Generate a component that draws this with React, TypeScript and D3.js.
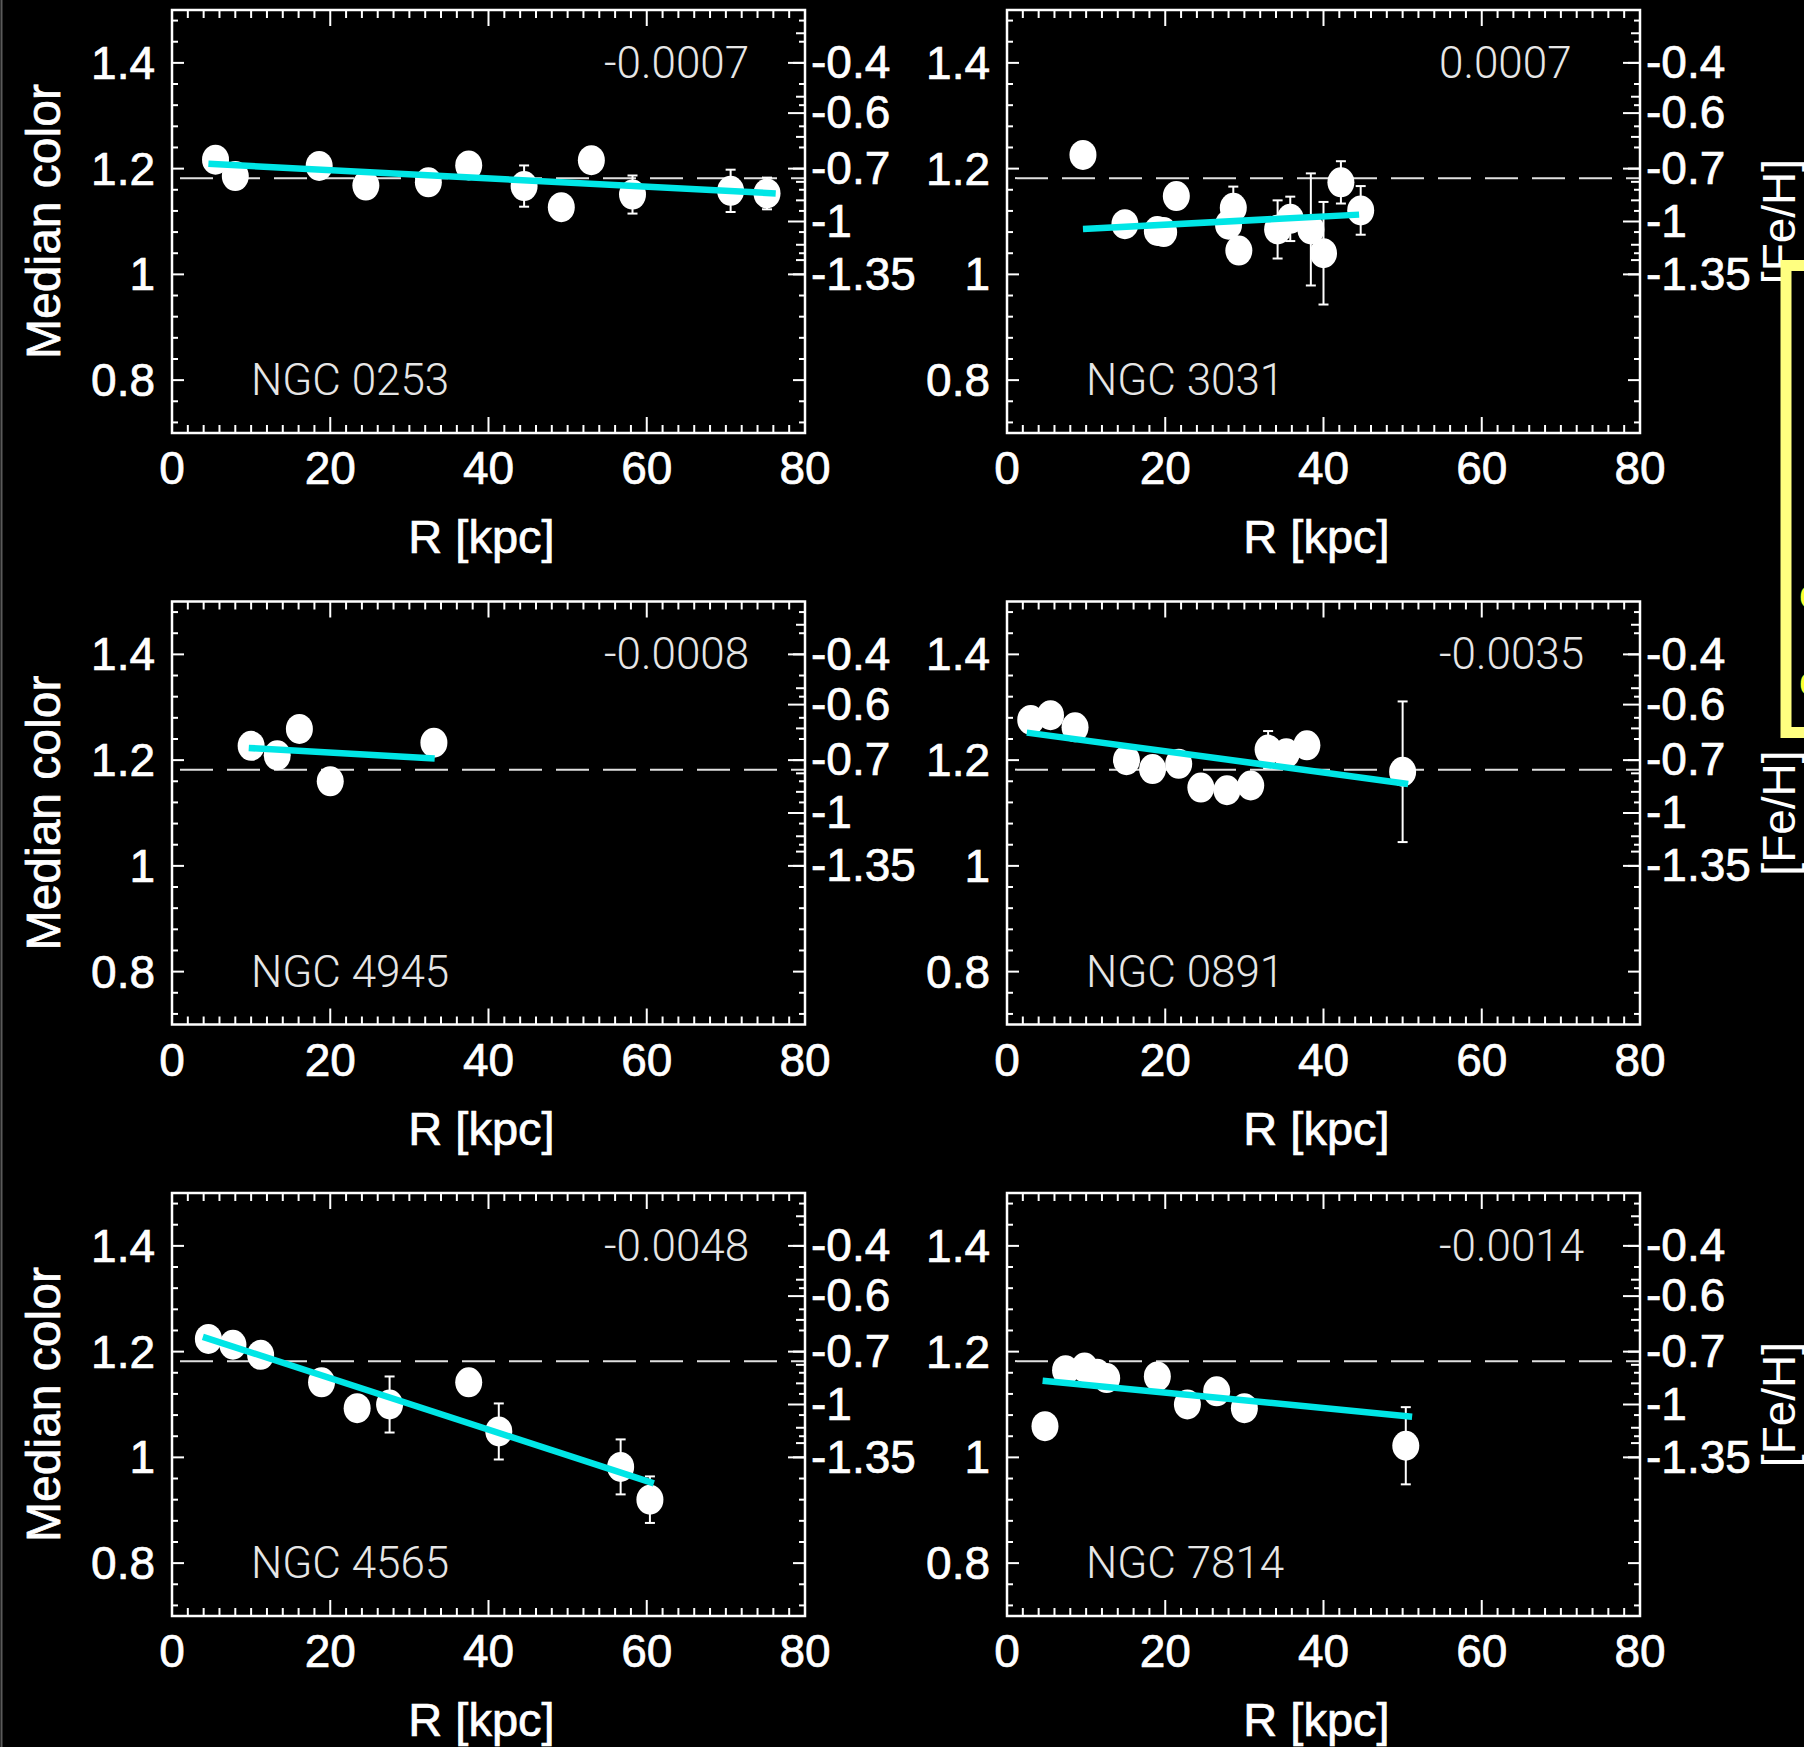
import React from "react";
import * as d3 from "d3";

const W = 1804;
const H = 1747;

// ---------- data ----------
const galaxyNames = ["NGC 0253", "NGC 3031", "NGC 4945", "NGC 0891", "NGC 4565", "NGC 7814"];
const slopeLabels = ["-0.0007", "0.0007", "-0.0008", "-0.0035", "-0.0048", "-0.0014"];

const r0253 = [5.5, 8.0, 18.6, 24.5, 32.4, 37.5, 44.5, 49.2, 53.0, 58.2, 70.6, 75.2];
const c0253 = [1.217, 1.186, 1.205, 1.168, 1.174, 1.206, 1.167, 1.127, 1.216, 1.151, 1.158, 1.153];
const e0253 = [0, 0, 0, 0, 0, 0, 0.039, 0, 0, 0.036, 0.04, 0.03];
const fitR0253 = [4.6, 76.3];
const fitC0253 = [1.209, 1.153];

const r3031 = [9.6, 14.9, 19.0, 19.8, 21.4, 28.0, 28.6, 29.3, 34.2, 35.8, 38.4, 40.0, 42.2, 44.7];
const c3031 = [1.226, 1.095, 1.082, 1.08, 1.148, 1.094, 1.126, 1.045, 1.085, 1.105, 1.085, 1.04, 1.174, 1.121];
const e3031 = [0, 0, 0, 0, 0, 0, 0.04, 0, 0.055, 0.042, 0.106, 0.097, 0.04, 0.046];
const fitR3031 = [9.6, 44.5];
const fitC3031 = [1.086, 1.113];

const r4945 = [10.0, 13.3, 16.1, 20.0, 33.1];
const c4945 = [1.227, 1.209, 1.259, 1.16, 1.233];
const e4945 = [0, 0, 0, 0, 0];
const fitR4945 = [9.7, 33.2];
const fitC4945 = [1.223, 1.203];

const r0891 = [3.0, 5.5, 8.6, 15.1, 18.4, 21.7, 24.5, 27.8, 30.8, 33.0, 35.3, 37.9, 50.0];
const c0891 = [1.276, 1.285, 1.262, 1.2, 1.183, 1.193, 1.148, 1.143, 1.152, 1.22, 1.213, 1.228, 1.178];
const e0891 = [0, 0, 0, 0, 0, 0, 0, 0, 0, 0.035, 0, 0, 0.133];
const fitR0891 = [2.5, 50.7];
const fitC0891 = [1.252, 1.155];

const r4565 = [4.6, 7.7, 11.2, 18.9, 23.4, 27.5, 37.5, 41.3, 56.7, 60.4];
const c4565 = [1.224, 1.213, 1.194, 1.142, 1.093, 1.1, 1.142, 1.049, 0.982, 0.92];
const e4565 = [0, 0, 0, 0, 0, 0.053, 0, 0.053, 0.052, 0.044];
const fitR4565 = [3.9, 60.9];
const fitC4565 = [1.228, 0.951];

const r7814 = [4.8, 7.4, 9.8, 11.4, 12.6, 19.0, 22.8, 26.5, 30.0, 50.4];
const c7814 = [1.059, 1.165, 1.17, 1.158, 1.15, 1.153, 1.1, 1.125, 1.093, 1.022];
const e7814 = [0, 0, 0, 0, 0, 0, 0, 0, 0, 0.073];
const fitR7814 = [4.5, 51.2];
const fitC7814 = [1.145, 1.077];

const xTicks = [0, 20, 40, 60, 80];
const yTicks = [0.8, 1.0, 1.2, 1.4];
const yTickLabels = ["0.8", "1", "1.2", "1.4"];
const feHLabels = ["-0.4", "-0.6", "-0.7", "-1", "-1.35"];
const feHColor = [1.4, 1.305, 1.2, 1.1, 1.0];
const feHMinorColor = [1.456, 1.336, 1.26, 1.175, 1.14, 1.056, 1.027];
const referenceColor = 1.182;

const xLabel = "R [kpc]";
const yLabel = "Median color";
const y2Label = "[Fe/H]";

// ---------- layout ----------
const colX = [172, 1007];
const rowY = [10, 601.5, 1193];
const PW = 633;
const PH = 423;

const panels = [
  { r: r0253, c: c0253, e: e0253, fr: fitR0253, fc: fitC0253 },
  { r: r3031, c: c3031, e: e3031, fr: fitR3031, fc: fitC3031 },
  { r: r4945, c: c4945, e: e4945, fr: fitR4945, fc: fitC4945 },
  { r: r0891, c: c0891, e: e0891, fr: fitR0891, fc: fitC0891 },
  { r: r4565, c: c4565, e: e4565, fr: fitR4565, fc: fitC4565 },
  { r: r7814, c: c7814, e: e7814, fr: fitR7814, fc: fitC7814 },
];

const WHITE = "#ffffff";
const CYAN = "#00e6e6";
const tickFont = "'Liberation Sans', Arial, sans-serif";
const thinFont = "Roboto, 'Liberation Sans', sans-serif";

const boldish = { stroke: WHITE, strokeWidth: 0.7 };

function Panel({ idx }: { idx: number }) {
  const col = idx % 2;
  const row = Math.floor(idx / 2);
  const x0 = colX[col];
  const y0 = rowY[row];
  const p = panels[idx];
  const x = d3.scaleLinear().domain([0, 80]).range([0, PW]);
  const y = d3.scaleLinear().domain([0.7, 1.5]).range([PH, 0]);
  const xMinor = d3.range(0, 80.001, 2);
  const yMinor = d3.range(0.72, 1.5, 0.04);
  const line = d3
    .line<number>()
    .x((_, i) => x(p.fr[i]))
    .y((d) => y(d));

  return (
    <g transform={`translate(${x0},${y0})`}>
      {/* reference dashed line */}
      <line
        x1={x(0) + 8}
        x2={PW}
        y1={y(referenceColor)}
        y2={y(referenceColor)}
        stroke="#e0e0e0"
        strokeWidth={2}
        strokeDasharray="33,14"
      />
      {/* x ticks bottom/top */}
      {xMinor.map((v) => {
        const major = Math.abs(v % 20) < 1e-6;
        const len = major ? 16 : 8;
        return (
          <g key={"xt" + v}>
            <line x1={x(v)} x2={x(v)} y1={PH} y2={PH - len} stroke={WHITE} strokeWidth={2} />
            <line x1={x(v)} x2={x(v)} y1={0} y2={len} stroke={WHITE} strokeWidth={2} />
          </g>
        );
      })}
      {/* y ticks left / mirrored right */}
      {yMinor.map((v) => {
        const major = yTicks.some((t) => Math.abs(t - v) < 1e-6);
        const len = major ? 12 : 6;
        return (
          <g key={"yt" + v.toFixed(2)}>
            <line x1={0} x2={len} y1={y(v)} y2={y(v)} stroke={WHITE} strokeWidth={2} />
            <line x1={PW} x2={PW - len} y1={y(v)} y2={y(v)} stroke={WHITE} strokeWidth={2} />
          </g>
        );
      })}
      {/* [Fe/H] ticks on right */}
      {feHColor.map((v) => (
        <line key={"fh" + v} x1={PW} x2={PW - 17} y1={y(v)} y2={y(v)} stroke={WHITE} strokeWidth={2} />
      ))}
      {feHMinorColor.map((v) => (
        <line key={"fm" + v} x1={PW} x2={PW - 9} y1={y(v)} y2={y(v)} stroke={WHITE} strokeWidth={2} />
      ))}
      {/* frame */}
      <rect x={0} y={0} width={PW} height={PH} fill="none" stroke={WHITE} strokeWidth={2.5} />

      {/* tick labels */}
      {xTicks.map((v) => (
        <text
          key={"xl" + v}
          x={x(v)}
          y={PH + 35}
          dy="0.35em"
          textAnchor="middle"
          fill={WHITE}
          fontSize={46}
          fontFamily={tickFont}
          {...boldish}
        >
          {v}
        </text>
      ))}
      {yTicks.map((v, i) => (
        <text
          key={"yl" + v}
          x={-17}
          y={y(v)}
          dy="0.35em"
          textAnchor="end"
          fill={WHITE}
          fontSize={46}
          fontFamily={tickFont}
          {...boldish}
        >
          {yTickLabels[i]}
        </text>
      ))}
      {feHColor.map((v, i) => (
        <text
          key={"fl" + v}
          x={PW + 6}
          y={y(v)}
          dy="0.33em"
          textAnchor="start"
          fill={WHITE}
          fontSize={46}
          fontFamily={tickFont}
          {...boldish}
        >
          {feHLabels[i]}
        </text>
      ))}

      {/* axis titles */}
      <text
        x={PW / 2 - 7}
        y={PH + 120}
        textAnchor="middle"
        fill={WHITE}
        fontSize={47}
        fontFamily={tickFont}
        {...boldish}
      >
        {xLabel}
      </text>
      {col === 0 && (
        <text
          transform={`translate(${60 - x0},${PH / 2}) rotate(-90)`}
          textAnchor="middle"
          fill={WHITE}
          fontSize={48}
          fontFamily={tickFont}
          {...boldish}
        >
          {yLabel}
        </text>
      )}
      {col === 1 && (
        <text
          transform={`translate(${PW + 155},${PH / 2}) rotate(-90)`}
          textAnchor="middle"
          fill={WHITE}
          fontSize={46}
          fontFamily={tickFont}
        >
          {y2Label}
        </text>
      )}

      {/* slope + name */}
      <text
        x={432}
        y={y(1.4) + 15}
        fill="#e6e6e6"
        fontSize={44}
        fontWeight={300}
        fontFamily={thinFont}
      >
        {slopeLabels[idx]}
      </text>
      <text
        x={79}
        y={y(0.8) + 15}
        fill="#e6e6e6"
        fontSize={44}
        fontWeight={300}
        fontFamily={thinFont}
      >
        {galaxyNames[idx]}
      </text>

      {/* error bars */}
      {p.r.map((rv, i) =>
        p.e[i] > 0 ? (
          <g key={"eb" + i}>
            <line x1={x(rv)} x2={x(rv)} y1={y(p.c[i] - p.e[i])} y2={y(p.c[i] + p.e[i])} stroke={WHITE} strokeWidth={2} />
            <line x1={x(rv) - 5} x2={x(rv) + 5} y1={y(p.c[i] - p.e[i])} y2={y(p.c[i] - p.e[i])} stroke={WHITE} strokeWidth={2} />
            <line x1={x(rv) - 5} x2={x(rv) + 5} y1={y(p.c[i] + p.e[i])} y2={y(p.c[i] + p.e[i])} stroke={WHITE} strokeWidth={2} />
          </g>
        ) : null
      )}
      {/* points */}
      {p.r.map((rv, i) => (
        <ellipse key={"pt" + i} cx={x(rv)} cy={y(p.c[i])} rx={13.5} ry={15} fill={WHITE} />
      ))}
      {/* fit */}
      <path d={line(p.fc) || ""} stroke={CYAN} strokeWidth={6.5} fill="none" />
    </g>
  );
}

export default function App() {
  return (
    <svg
      width={W}
      height={H}
      viewBox={`0 0 ${W} ${H}`}
      style={{ position: "absolute", left: 0, top: 0, background: "#000" }}
    >
      <rect x={0} y={0} width={W} height={H} fill="#000" />
      <line x1={1.5} x2={1.5} y1={0} y2={H} stroke="#5a5a5a" strokeWidth={2} />
      {[0, 1, 2, 3, 4, 5].map((i) => (
        <Panel key={i} idx={i} />
      ))}
      {/* partially visible yellow box at right edge */}
      <rect x={1786} y={265.5} width={40} height={467} fill="#000" stroke="#ffff80" strokeWidth={11} />
      <text x={1799} y={608} fill="#ffff33" fontSize={40} fontFamily={tickFont}>o</text>
      <text x={1799} y={695} fill="#ffff33" fontSize={40} fontFamily={tickFont}>c</text>
    </svg>
  );
}
